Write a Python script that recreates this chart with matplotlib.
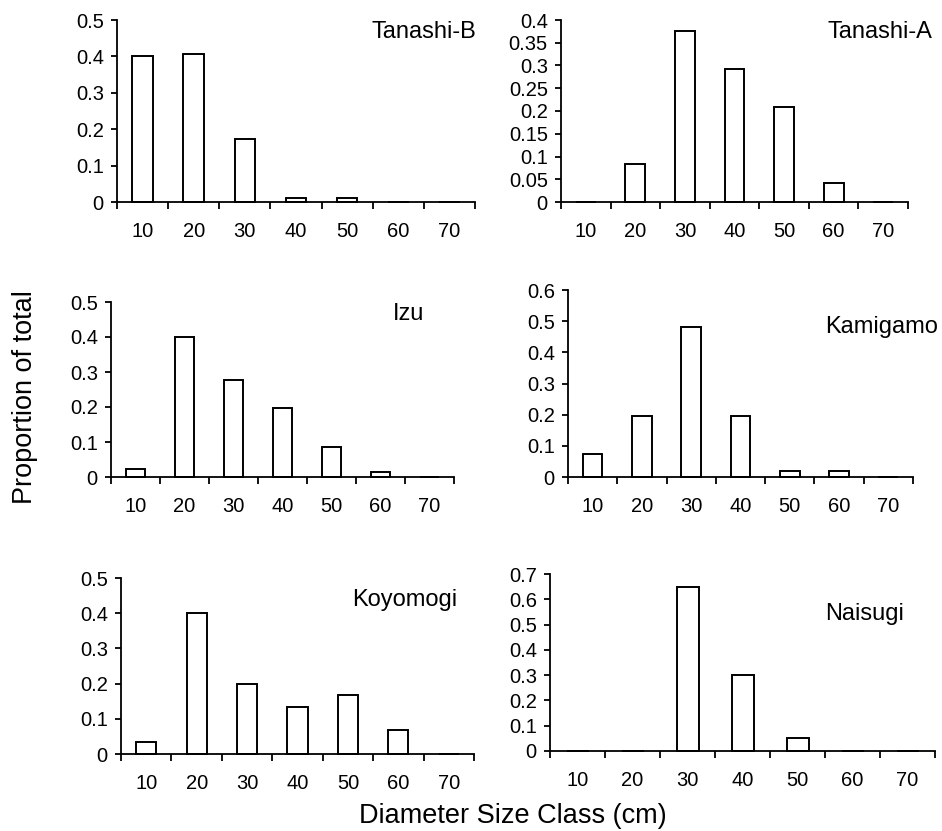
import numpy as np
import matplotlib
matplotlib.use("Agg")
import matplotlib.pyplot as plt
from matplotlib.ticker import FixedLocator, FuncFormatter, NullFormatter

# Diameter size classes (cm)
size_classes = ["10", "20", "30", "40", "50", "60", "70"]

# Proportion of total in each size class, per site
tanashi_b = [0.400, 0.407, 0.173, 0.010, 0.010, 0.0, 0.0]
tanashi_a = [0.0, 0.083, 0.375, 0.292, 0.208, 0.042, 0.0]
izu = [0.022, 0.401, 0.278, 0.198, 0.087, 0.015, 0.0]
kamigamo = [0.074, 0.197, 0.481, 0.197, 0.018, 0.018, 0.0]
koyomogi = [0.033, 0.400, 0.200, 0.133, 0.167, 0.067, 0.0]
naisugi = [0.0, 0.0, 0.650, 0.300, 0.050, 0.0, 0.0]

site_names = ["Tanashi-B", "Tanashi-A", "Izu", "Kamigamo", "Koyomogi", "Naisugi"]
site_values = [tanashi_b, tanashi_a, izu, kamigamo, koyomogi, naisugi]
y_max = [0.5, 0.4, 0.5, 0.6, 0.5, 0.7]
y_step = [0.1, 0.05, 0.1, 0.1, 0.1, 0.1]

W, H = 942, 831
plt.rcParams["font.family"] = ["Liberation Sans", "DejaVu Sans"]
fig = plt.figure(figsize=(W / 100, H / 100), dpi=100)
fig.patch.set_facecolor("white")

# axes boxes in pixels: left, right, top, bottom (zero line)
boxes = [
    (117, 475, 20, 202),
    (561, 908, 20, 202),
    (111, 454, 302, 477),
    (568, 913, 290, 477),
    (121, 474, 578, 754),
    (550, 935, 574, 751),
]
# site label: left x, baseline y in pixels
name_pos = [(372, 38), (827, 38), (393, 320), (825, 333), (352, 606), (825, 620)]

x = np.arange(len(size_classes)) + 0.5

for name, vals, ymax, step, (l, r, t, b), (nx, ny) in zip(
        site_names, site_values, y_max, y_step, boxes, name_pos):
    ax = fig.add_axes([l / W, 1 - b / H, (r - l) / W, (b - t) / H])
    ax.bar(x, vals, width=0.4, color="white", edgecolor="black",
           linewidth=1.4, zorder=2, clip_on=False)
    ax.set_xlim(0, len(size_classes))
    ax.set_ylim(0, ymax)

    for side in ["top", "right"]:
        ax.spines[side].set_visible(False)
    for side in ["left", "bottom"]:
        ax.spines[side].set_linewidth(1.3)
        ax.spines[side].set_zorder(3)

    ax.xaxis.set_major_locator(FixedLocator(np.arange(len(size_classes) + 1)))
    ax.xaxis.set_major_formatter(NullFormatter())
    ax.xaxis.set_minor_locator(FixedLocator(x))
    ax.set_xticklabels(size_classes, minor=True)
    ax.tick_params(axis="x", which="major", direction="out", length=5, width=1.3)
    ax.tick_params(axis="x", which="minor", length=0, pad=14.5, labelsize=14.5)

    ax.set_yticks(np.arange(0, ymax + step / 2, step))
    ax.yaxis.set_major_formatter(FuncFormatter(lambda v, _: f"{round(v, 3):g}"))
    ax.tick_params(axis="y", direction="out", length=4, width=1.3, pad=5.5,
                   labelsize=14.5)

    fig.text(nx / W, 1 - ny / H, name, fontsize=17, ha="left", va="baseline")

fig.text(25 / W, 1 - 397 / H, "Proportion of total", rotation=90,
         fontsize=19.5, ha="center", va="center")
fig.text(513 / W, 1 - 823 / H, "Diameter Size Class (cm)",
         fontsize=19.5, ha="center", va="baseline")

plt.savefig("out.png", dpi=100, facecolor="white")
